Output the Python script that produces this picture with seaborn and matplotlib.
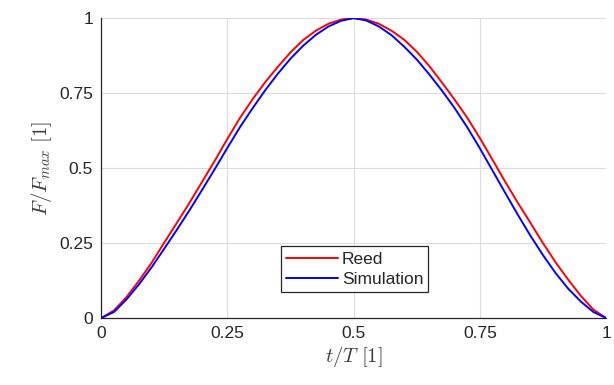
import numpy as np
import pandas as pd
import seaborn as sns
import matplotlib
matplotlib.use('Agg')
import matplotlib.pyplot as plt

# --- data ---
t_grid = [0, 0.025, 0.05, 0.075, 0.1, 0.125, 0.15, 0.175, 0.2, 0.225,
          0.25, 0.275, 0.3, 0.325, 0.35, 0.375, 0.4, 0.425, 0.45, 0.475,
          0.5, 0.525, 0.55, 0.575, 0.6, 0.625, 0.65, 0.675, 0.7, 0.725,
          0.75, 0.775, 0.8, 0.825, 0.85, 0.875, 0.9, 0.925, 0.95, 0.975, 1.0]

reed = [0, 0.025, 0.07, 0.125, 0.185, 0.252, 0.318, 0.385, 0.455, 0.525,
        0.598, 0.668, 0.73, 0.787, 0.838, 0.886, 0.927, 0.958, 0.981, 0.995,
        1.0, 0.995, 0.981, 0.958, 0.928, 0.888, 0.84, 0.785, 0.728, 0.668,
        0.6, 0.528, 0.455, 0.385, 0.318, 0.25, 0.186, 0.128, 0.074, 0.028, 0]

simulation = [0, 0.02, 0.062, 0.113, 0.17, 0.232, 0.295, 0.36, 0.428, 0.497,
              0.568, 0.637, 0.70, 0.76, 0.815, 0.865, 0.908, 0.944, 0.972, 0.991,
              1.0, 0.992, 0.972, 0.943, 0.905, 0.862, 0.812, 0.758, 0.70, 0.636,
              0.566, 0.492, 0.418, 0.345, 0.275, 0.21, 0.15, 0.098, 0.055, 0.02, 0]

ticks = [0, 0.25, 0.5, 0.75, 1]
tick_labels = ['0', '0.25', '0.5', '0.75', '1']

# --- style ---
sns.set_style('white')
plt.rcParams['font.family'] = ['Liberation Sans', 'DejaVu Sans']
plt.rcParams['mathtext.fontset'] = 'cm'
plt.rcParams['xtick.direction'] = 'in'
plt.rcParams['ytick.direction'] = 'in'

df = pd.DataFrame({'t': t_grid, 'Reed': reed, 'Simulation': simulation})

fig = plt.figure(figsize=(6.14, 3.85), dpi=100)
ax = fig.add_axes([0.165, 0.174, 0.822, 0.779])

sns.lineplot(data=df, x='t', y='Reed', color='#ff0000', lw=1.4, label='Reed', ax=ax)
sns.lineplot(data=df, x='t', y='Simulation', color='#0000ff', lw=1.4, label='Simulation', ax=ax)

ax.set_xlim(0, 1)
ax.set_ylim(0, 1)
ax.set_xticks(ticks)
ax.set_xticklabels(tick_labels)
ax.set_yticks(ticks)
ax.set_yticklabels(tick_labels)
ax.tick_params(labelsize=12.5, colors='#262626', length=4, width=0.8, pad=6)
ax.grid(True, color='#dcdcdc', lw=0.8)

for side in ['top', 'right']:
    ax.spines[side].set_visible(False)
for side in ['left', 'bottom']:
    ax.spines[side].set_color('#262626')
    ax.spines[side].set_linewidth(0.9)

ax.set_xlabel(r'$t/T\ \mathrm{[1]}$', fontsize=15, color='#404040', labelpad=2)
ax.set_ylabel(r'$F/F_{max}\ \mathrm{[1]}$', fontsize=15, color='#404040', labelpad=4)

leg = ax.legend(loc='center', bbox_to_anchor=(0.502, 0.162), fontsize=12.5,
                handlelength=3.0, handletextpad=0.2, borderpad=0.3,
                labelspacing=0.3, fancybox=False, framealpha=1)
leg.get_frame().set_edgecolor('#262626')
leg.get_frame().set_linewidth(0.9)

fig.savefig('out.png', dpi=100)
